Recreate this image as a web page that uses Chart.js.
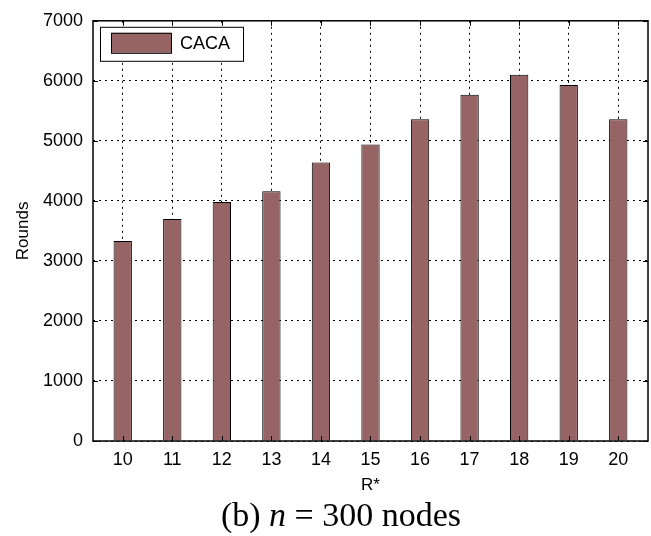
<!DOCTYPE html>
<html>
<head>
<meta charset="utf-8">
<script src="https://cdn.jsdelivr.net/npm/chart.js@4"></script>
<style>
  html, body { margin: 0; padding: 0; background: #fff; }
  #wrap { width: 651px; height: 536px; }
</style>
</head>
<body>
<div id="wrap"><canvas id="c" width="651" height="536"></canvas></div>
<script>
// valeurs (b) n = 300 nodes
const rStar = [10, 11, 12, 13, 14, 15, 16, 17, 18, 19, 20];
const rounds = [3330, 3700, 3980, 4160, 4640, 4940, 5360, 5770, 6100, 5930, 5360];
const yTicks = [0, 1000, 2000, 3000, 4000, 5000, 6000, 7000];
const seriesLabel = 'CACA';

const BAR_COLOR = '#966464';
const SANS = '"Liberation Sans", Arial, sans-serif';
const SERIF = '"Liberation Serif", "Times New Roman", serif';

// cadre façon Matlab + légende intérieure + titres
const matlabFrame = {
  id: 'matlabFrame',
  afterDatasetsDraw(chart) {
    const { ctx, chartArea: a, scales } = chart;
    ctx.save();
    ctx.strokeStyle = '#000';
    ctx.lineWidth = 1;

    // petits traits de graduation vers l'intérieur
    const tl = 5;
    ctx.beginPath();
    scales.y.ticks.forEach(t => {
      const y = Math.round(scales.y.getPixelForValue(t.value)) + 0.5;
      ctx.moveTo(a.left, y); ctx.lineTo(a.left + tl, y);
      ctx.moveTo(a.right, y); ctx.lineTo(a.right - tl, y);
    });
    scales.x.ticks.forEach(t => {
      const x = Math.round(scales.x.getPixelForValue(t.value)) + 0.5;
      ctx.moveTo(x, a.top); ctx.lineTo(x, a.top + tl);
      ctx.moveTo(x, a.bottom); ctx.lineTo(x, a.bottom - tl);
    });
    ctx.stroke();

    ctx.lineWidth = 1.5;
    ctx.strokeRect(a.left, a.top, a.right - a.left, a.bottom - a.top);

    // légende
    const ds = chart.data.datasets[0];
    const lx = a.left + 7, ly = a.top + 6;
    ctx.fillStyle = '#fff';
    ctx.fillRect(lx, ly, 143, 34);
    ctx.lineWidth = 1;
    ctx.strokeRect(lx + 0.5, ly + 0.5, 143, 34);
    ctx.fillStyle = ds.backgroundColor;
    ctx.fillRect(lx + 11, ly + 6, 60, 20);
    ctx.strokeRect(lx + 11.5, ly + 6.5, 60, 20);
    ctx.fillStyle = '#000';
    ctx.font = '18px ' + SANS;
    ctx.textAlign = 'left';
    ctx.textBaseline = 'middle';
    ctx.fillText(ds.label, lx + 80, ly + 17);

    // titres d'axes
    ctx.font = '17px ' + SANS;
    ctx.textAlign = 'center';
    ctx.textBaseline = 'alphabetic';
    ctx.fillText('R*', (a.left + a.right) / 2, 490);

    ctx.save();
    ctx.translate(28, (a.top + a.bottom) / 2);
    ctx.rotate(-Math.PI / 2);
    ctx.fillText('Rounds', 0, 0);
    ctx.restore();

    // légende de sous-figure : (b) n = 300 nodes
    const parts = [
      { t: '(b) ', f: '34px ' + SERIF },
      { t: 'n', f: 'italic 34px ' + SERIF },
      { t: ' = 300 nodes', f: '34px ' + SERIF },
    ];
    let total = 0;
    parts.forEach(p => { ctx.font = p.f; p.w = ctx.measureText(p.t).width; total += p.w; });
    let x = 341 - total / 2;
    ctx.textAlign = 'left';
    parts.forEach(p => { ctx.font = p.f; ctx.fillText(p.t, x, 526); x += p.w; });

    ctx.restore();
  }
};

const grid = {
  color: '#000',
  lineWidth: 1,
  drawTicks: false,
  offset: false,
};
const border = { display: false, dash: [2, 4] };

new Chart(document.getElementById('c').getContext('2d'), {
  type: 'bar',
  data: {
    labels: rStar,
    datasets: [{
      label: seriesLabel,
      data: rStar.map((r, i) => ({ x: r, y: rounds[i] })),
      backgroundColor: BAR_COLOR,
      borderColor: '#000',
      borderWidth: 1,
      categoryPercentage: 1,
      barPercentage: 0.37,
    }]
  },
  options: {
    responsive: false,
    animation: false,
    devicePixelRatio: 1,
    layout: { padding: { left: 0, top: 18, right: 3, bottom: 0 } },
    plugins: {
      legend: { display: false },
      tooltip: { enabled: false },
    },
    scales: {
      x: {
        type: 'linear',
        min: 9.4,
        max: 20.6,
        offset: false,
        border,
        grid,
        afterBuildTicks: (s) => { s.ticks = rStar.map(v => ({ value: v })); },
        afterFit: (s) => { s.height = 95; },
        ticks: {
          color: '#000',
          padding: 8,
          maxRotation: 0,
          font: { family: SANS, size: 18 },
          callback: (v) => String(v),
        }
      },
      y: {
        min: 0,
        max: 7000,
        border,
        grid,
        afterBuildTicks: (s) => { s.ticks = yTicks.map(v => ({ value: v })); },
        afterFit: (s) => { s.width = 93; },
        ticks: {
          color: '#000',
          padding: 10,
          font: { family: SANS, size: 18 },
          callback: (v) => String(v),
        }
      }
    }
  },
  plugins: [matlabFrame]
});
</script>
</body>
</html>
